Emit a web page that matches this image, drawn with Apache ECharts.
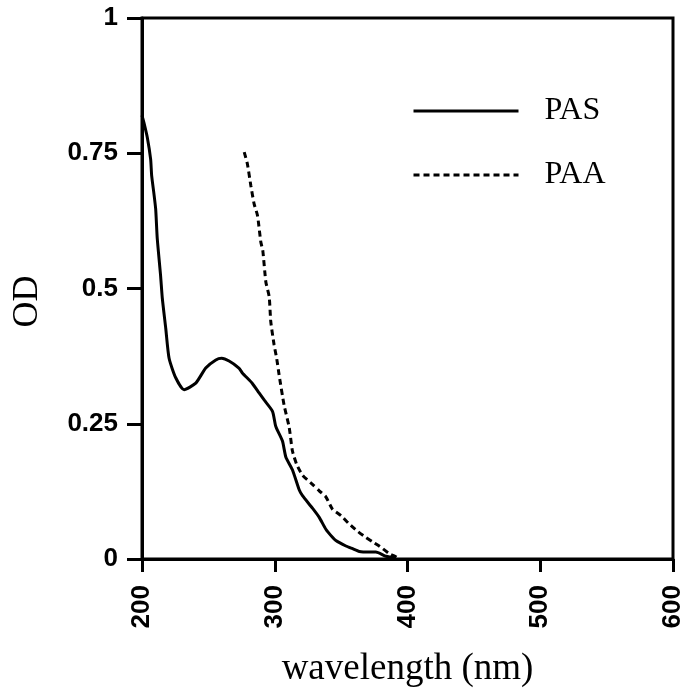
<!DOCTYPE html>
<html>
<head>
<meta charset="utf-8">
<script src="https://cdn.jsdelivr.net/npm/echarts@6/dist/echarts.min.js"></script>
<style>
html,body{margin:0;padding:0;background:#fff;}
#c{width:686px;height:693px;}
</style>
</head>
<body>
<div id="c"></div>
<script>
// Data (wavelength in nm, OD)
const pasWavelength = [200, 201.5, 204, 206.5, 207.3, 209, 210.3, 211.5, 214, 215.3, 217.9, 220.4, 225.4, 231.7, 240.5, 248, 255.6, 260, 265.6, 273, 275.6, 283, 288.2, 292, 298.3, 300.8, 305.8, 308.4, 313.3, 318.4, 320.9, 328.4, 333.5, 338.5, 343.5, 346, 353.6, 358.6, 363.7, 371.2, 376.2, 383.8, 391.3];
const pasOD       = [0.82, 0.806, 0.779, 0.739, 0.708, 0.675, 0.647, 0.592, 0.524, 0.482, 0.426, 0.371, 0.335, 0.313, 0.325, 0.353, 0.368, 0.371, 0.366, 0.353, 0.344, 0.325, 0.307, 0.294, 0.273, 0.245, 0.218, 0.188, 0.165, 0.128, 0.117, 0.094, 0.077, 0.055, 0.040, 0.034, 0.024, 0.019, 0.014, 0.013, 0.013, 0.005, 0.002];

const paaWavelength = [277, 279.4, 282, 284.5, 287, 289.5, 291, 293.3, 295.8, 297, 299.5, 301.5, 303.3, 307, 310.9, 313.3, 316.5, 320.9, 328.4, 333.5, 338.5, 343.5, 350, 356, 362, 368.6, 373.5, 378.7, 386.3, 391.3, 394];
const paaOD       = [0.752, 0.730, 0.690, 0.656, 0.635, 0.586, 0.570, 0.512, 0.485, 0.439, 0.396, 0.370, 0.340, 0.285, 0.243, 0.200, 0.175, 0.155, 0.138, 0.126, 0.115, 0.092, 0.080, 0.065, 0.052, 0.040, 0.032, 0.024, 0.010, 0.004, 0.0];

const seriesNames = ['PAS', 'PAA'];
const xTicks = [200, 300, 400, 500, 600];
const yTicks = [0, 0.25, 0.5, 0.75, 1];

const pasData = pasWavelength.map((w, i) => [w, pasOD[i]]);
const paaData = paaWavelength.map((w, i) => [w, paaOD[i]]);

const chart = echarts.init(document.getElementById('c'), null, {renderer: 'canvas'});
const tickFont = {fontFamily: '"Liberation Sans", Arial, sans-serif', fontWeight: 'bold', fontSize: 26, color: '#000'};
const serifFont = '"Liberation Serif", "Times New Roman", serif';

chart.setOption({
  animation: false,
  backgroundColor: '#fff',
  grid: {left: 142, right: 13, top: 18, bottom: 131, show: true, borderColor: '#000', borderWidth: 3, backgroundColor: 'transparent'},
  legend: {
    orient: 'vertical',
    left: 407,
    top: 90,
    itemWidth: 105,
    itemHeight: 30,
    itemGap: 32,
    data: seriesNames,
    textStyle: {fontFamily: serifFont, fontSize: 32, color: '#000', lineHeight: 30, padding: [0, 0, 0, 21]},
    itemStyle: {color: 'transparent', borderColor: 'transparent', borderWidth: 0},
    lineStyle: {width: 3}
  },
  xAxis: {
    type: 'value',
    min: xTicks[0], max: xTicks[xTicks.length - 1], interval: 100,
    name: 'wavelength (nm)',
    nameLocation: 'middle',
    nameGap: 92,
    nameTextStyle: {fontFamily: serifFont, fontSize: 37, color: '#000'},
    axisLine: {show: true, lineStyle: {color: '#000', width: 3}},
    axisTick: {show: true, inside: false, length: 13, lineStyle: {color: '#000', width: 3}},
    axisLabel: Object.assign({rotate: 90, margin: 26}, tickFont),
    splitLine: {show: false}
  },
  yAxis: {
    type: 'value',
    min: yTicks[0], max: yTicks[yTicks.length - 1], interval: 0.25,
    name: 'OD',
    nameLocation: 'middle',
    nameGap: 96,
    nameTextStyle: {fontFamily: serifFont, fontSize: 36, color: '#000', padding: [0, 26, 0, 0]},
    axisLine: {show: true, lineStyle: {color: '#000', width: 3}},
    axisTick: {show: true, inside: false, length: 15, lineStyle: {color: '#000', width: 3}},
    axisLabel: Object.assign({margin: 24, formatter: v => String(v)}, tickFont),
    splitLine: {show: false}
  },
  series: [
    {name: seriesNames[0], type: 'line', data: pasData, symbol: 'none', smooth: 0.2, lineStyle: {color: '#000', width: 3, type: 'solid'}, itemStyle: {color: '#000'}},
    {name: seriesNames[1], type: 'line', data: paaData, symbol: 'none', smooth: 0.2, lineStyle: {color: '#000', width: 3, type: [6, 4]}, itemStyle: {color: '#000'}}
  ]
});
</script>
</body>
</html>
